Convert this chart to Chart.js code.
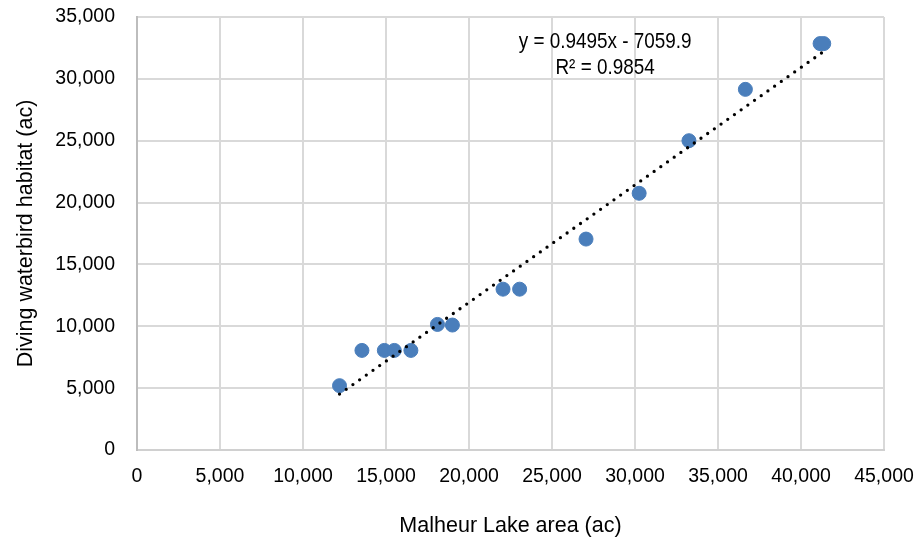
<!DOCTYPE html>
<html>
<head>
<meta charset="utf-8">
<title>Malheur Lake area vs diving waterbird habitat</title>
<script src="https://cdn.jsdelivr.net/npm/chart.js@4/dist/chart.umd.min.js"></script>
<style>
  html, body { margin: 0; padding: 0; background: #fff; }
  #wrap { width: 915px; height: 546px; position: relative; }
</style>
</head>
<body>
<div id="wrap"><canvas id="scatter"></canvas></div>
<script>
// lake area (ac) and diving waterbird habitat (ac)
const lakeArea = [12200, 13550, 14900, 15500, 16500, 18100, 19000, 22050, 23050, 27050, 30250, 33250, 36650, 41150, 41370];
const habitat  = [5200, 8050, 8050, 8050, 8050, 10150, 10100, 13000, 13000, 17050, 20750, 25000, 29150, 32850, 32850];

// linear trendline as printed on the chart
const slope = 0.9495;
const intercept = -7059.9;
const trendLabels = ['y = 0.9495x - 7059.9', 'R\u00b2 = 0.9854'];
const labelAnchor = { x: 28200, y: 33000 };

const xTicks = [0, 5000, 10000, 15000, 20000, 25000, 30000, 35000, 40000, 45000];
const yTicks = [0, 5000, 10000, 15000, 20000, 25000, 30000, 35000];

const points = lakeArea.map((x, i) => ({ x: x, y: habitat[i] }));
const xMin = Math.min(...lakeArea);
const xMax = Math.max(...lakeArea);
const trend = [
	{ x: xMin, y: slope * xMin + intercept },
	{ x: xMax, y: slope * xMax + intercept },
];

const family = "'Liberation Sans', Arial, sans-serif";
const fmt = (v) => v.toLocaleString('en-US');

// equation box, a bit condensed like the original narrow font
const equationText = {
	id: 'equationText',
	afterDatasetsDraw(chart) {
		const { ctx, scales } = chart;
		const cx = scales.x.getPixelForValue(labelAnchor.x);
		const cy = scales.y.getPixelForValue(labelAnchor.y);
		const squeeze = 0.84;
		ctx.save();
		ctx.translate(cx, cy);
		ctx.scale(squeeze, 1);
		ctx.font = '22.5px ' + family;
		ctx.fillStyle = '#000';
		ctx.textAlign = 'center';
		ctx.textBaseline = 'middle';
		trendLabels.forEach((t, i) => ctx.fillText(t, 0, i * 26));
		ctx.restore();
	},
};

const ctx = document.getElementById('scatter').getContext('2d');
new Chart(ctx, {
	type: 'scatter',
	data: {
		datasets: [
			{
				label: 'Linear trend',
				data: trend,
				showLine: true,
				borderColor: '#000',
				borderWidth: 3.3,
				borderDash: [0, 8.2],
				borderCapStyle: 'round',
				pointRadius: 0,
				pointHoverRadius: 0,
				order: 0,
			},
			{
				label: 'Habitat',
				data: points,
				backgroundColor: '#4a7ebb',
				borderColor: '#4a7ebb',
				borderWidth: 1,
				pointRadius: 7,
				pointHoverRadius: 7,
				order: 1,
			},
		],
	},
	options: {
		responsive: true,
		maintainAspectRatio: false,
		animation: false,
		layout: { padding: { top: 17, right: 31, left: 0, bottom: 0 } },
		plugins: {
			legend: { display: false },
			tooltip: { enabled: false },
		},
		scales: {
			x: {
				type: 'linear',
				min: 0,
				max: 45000,
				afterBuildTicks: (scale) => { scale.ticks = xTicks.map(v => ({ value: v })); },
				afterFit: (scale) => {
					scale.height = 96;
					scale.paddingLeft = 0;
					scale.paddingRight = 0;
				},
				grid: { color: '#d9d9d9', lineWidth: 2, drawTicks: false },
				border: { color: '#d0d0d0', width: 2 },
				ticks: {
					padding: 15,
					maxRotation: 0,
					autoSkip: false,
					color: '#000',
					font: { family: family, size: 19.5 },
					callback: (v) => fmt(v),
				},
				title: {
					display: true,
					text: 'Malheur Lake area (ac)',
					color: '#000',
					font: { family: family, size: 21.5 },
					padding: { top: 7, bottom: 7 },
				},
			},
			y: {
				type: 'linear',
				min: 0,
				max: 35000,
				afterBuildTicks: (scale) => { scale.ticks = yTicks.map(v => ({ value: v })); },
				afterFit: (scale) => {
					scale.width = 137;
					scale.paddingTop = 0;
					scale.paddingBottom = 0;
				},
				grid: { color: '#d9d9d9', lineWidth: 2, drawTicks: false },
				border: { color: '#bdbdbd', width: 2 },
				ticks: {
					padding: 22,
					autoSkip: false,
					color: '#000',
					font: { family: family, size: 19.5 },
					callback: (v) => fmt(v),
				},
				title: {
					display: true,
					text: 'Diving waterbird habitat (ac)',
					color: '#000',
					font: { family: family, size: 21.5 },
					padding: { top: 13, bottom: 13 },
				},
			},
		},
	},
	plugins: [equationText],
});
</script>
</body>
</html>
